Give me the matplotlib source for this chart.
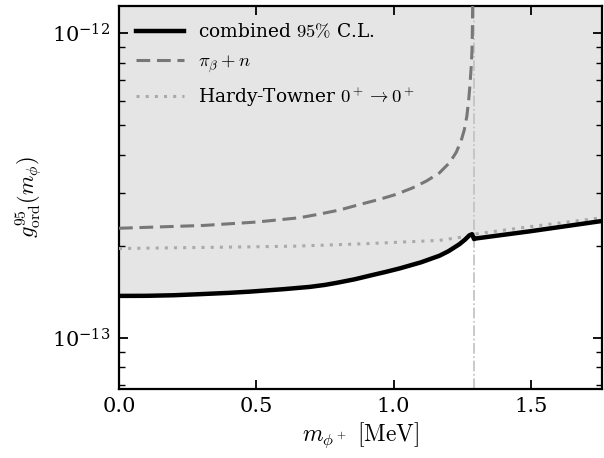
import numpy as np
import matplotlib
matplotlib.use("Agg")
import matplotlib.pyplot as plt
from matplotlib.ticker import NullFormatter

plt.rcParams["font.family"] = "DejaVu Serif"
plt.rcParams["mathtext.fontset"] = "cm"

# neutron - proton mass difference [MeV]
M_THR = 1.2933

# combined 95% C.L. bound
comb_m = [0.0, 0.1, 0.2, 0.3, 0.4, 0.476, 0.6, 0.695, 0.75, 0.8, 0.86, 0.913,
          0.97, 1.022, 1.1, 1.167, 1.2, 1.24, 1.26, 1.276, 1.286, 1.2933,
          1.30, 1.5, 1.76]
comb_g = [1.373e-13, 1.374e-13, 1.38e-13, 1.392e-13, 1.405e-13, 1.418e-13,
          1.445e-13, 1.47e-13, 1.492e-13, 1.52e-13, 1.558e-13, 1.60e-13,
          1.645e-13, 1.69e-13, 1.77e-13, 1.86e-13, 1.925e-13, 2.03e-13,
          2.10e-13, 2.17e-13, 2.19e-13, 2.11e-13, 2.12e-13, 2.24e-13, 2.42e-13]

# pi_beta + n
pin_m = [0.0, 0.31, 0.5, 0.658, 0.731, 0.804, 0.876, 0.949, 1.010, 1.070,
         1.119, 1.167, 1.204, 1.228, 1.246, 1.258, 1.267, 1.274, 1.279,
         1.283, 1.286, 1.287, 1.288, 1.2915]
pin_g = [2.29e-13, 2.34e-13, 2.40e-13, 2.48e-13, 2.55e-13, 2.63e-13, 2.74e-13,
         2.85e-13, 2.96e-13, 3.11e-13, 3.27e-13, 3.48e-13, 3.76e-13, 4.06e-13,
         4.43e-13, 4.83e-13, 5.34e-13, 6.07e-13, 6.88e-13, 7.80e-13, 8.85e-13,
         1.0e-12, 1.2e-12, 2.0e-12]

# Hardy-Towner superallowed
ht_m = [0.0, 0.476, 0.64, 0.913, 1.167, 1.276, 1.2933, 1.5, 1.76]
ht_g = [1.965e-13, 1.99e-13, 2.00e-13, 2.04e-13, 2.09e-13, 2.16e-13, 2.19e-13,
        2.32e-13, 2.48e-13]

XLIM = (0.0, 1.76)
YLIM = (6.8e-14, 1.23e-12)

fig = plt.figure(figsize=(6.04, 4.58), dpi=100)
ax = fig.add_axes([0.197, 0.151, 0.800, 0.836])

ax.fill_between(comb_m, comb_g, YLIM[1] * 2, color="#e5e5e5", lw=0, zorder=0)
ax.axvline(M_THR, color="#c0c0c0", lw=1.2, ls="-.", zorder=1)

ax.plot(comb_m, comb_g, color="black", lw=3.2, label=r"combined $95\%$ C.L.", zorder=4)
ax.plot(pin_m, pin_g, color="#777777", lw=2.2, ls=(0, (4.5, 2.2)), label=r"$\pi_\beta + n$", zorder=3)
ax.plot(ht_m, ht_g, color="#aaaaaa", lw=2.2, ls=(0, (1, 2)),
        label=r"Hardy-Towner $0^+ \to 0^+$", zorder=3)

ax.set_yscale("log")
ax.set_xlim(*XLIM)
ax.set_ylim(*YLIM)
ax.set_xticks([0.0, 0.5, 1.0, 1.5])
ax.yaxis.set_minor_formatter(NullFormatter())

ax.tick_params(which="both", direction="in", top=True, right=True, labelsize=15, pad=6)
ax.tick_params(which="major", length=6.5, width=1.3)
ax.tick_params(which="minor", length=4, width=1.0)
for sp in ax.spines.values():
    sp.set_linewidth(1.6)

ax.set_xlabel(r"$m_{\phi^+}\ [\mathrm{MeV}]$", fontsize=17, labelpad=3)
ax.set_ylabel(r"$g^{95}_{\rm ord}(m_\phi)$", fontsize=16, labelpad=6)

ax.legend(loc="upper left", frameon=False, fontsize=13.4, handlelength=2.6,
          borderaxespad=0.5, labelspacing=0.6, handletextpad=0.75)

fig.savefig("out.png", dpi=100)
